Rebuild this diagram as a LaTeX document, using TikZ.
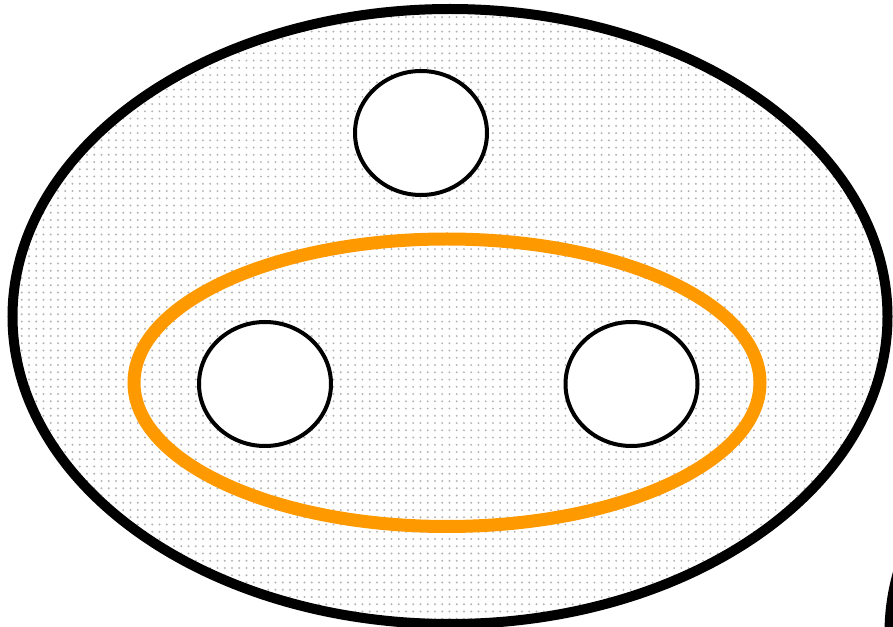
\documentclass[tikz,border=0pt]{standalone}
\usepackage{tikz}
\usetikzlibrary{shapes.geometric,patterns.meta}
\definecolor{CellOrange}{HTML}{FF9900}
\definecolor{CellDots}{HTML}{B4B4B4}
\tikzset{
  cellwall/.style={draw=black,line width=10*0.02cm},
  cellfill/.style={pattern={Dots[distance=0.145cm,radius=0.022cm]},pattern color=CellDots},
  hole/.style={ellipse,draw=black,fill=white,line width=4*0.02cm,
    minimum width=132*0.02cm,minimum height=124*0.02cm,inner sep=0pt},
  groupring/.style={draw=CellOrange,line width=13*0.02cm}
}
\begin{document}
\begin{tikzpicture}[x=0.02cm,y=0.02cm]
  \clip (0,0) rectangle (893,626);
  \path[use as bounding box] (0,0) rectangle (893,626);
  % outer body
  \path[cellfill] (450,309.5) ellipse [x radius=437.5,y radius=307.5];
  \draw[cellwall] (450,309.5) ellipse [x radius=437.5,y radius=307.5];
  % neighbouring body, cut by the frame
  \draw[cellwall] (1327,-7) ellipse [x radius=437.5,y radius=307.5];
  % grouping ring
  \draw[groupring] (447,243.25) ellipse [x radius=313,y radius=143.75];
  % holes
  \node[hole] (htop) at (421,493) {};
  \node[hole] (hleft) at (265,242) {};
  \node[hole] (hright) at (631.5,242) {};
\end{tikzpicture}
\end{document}
